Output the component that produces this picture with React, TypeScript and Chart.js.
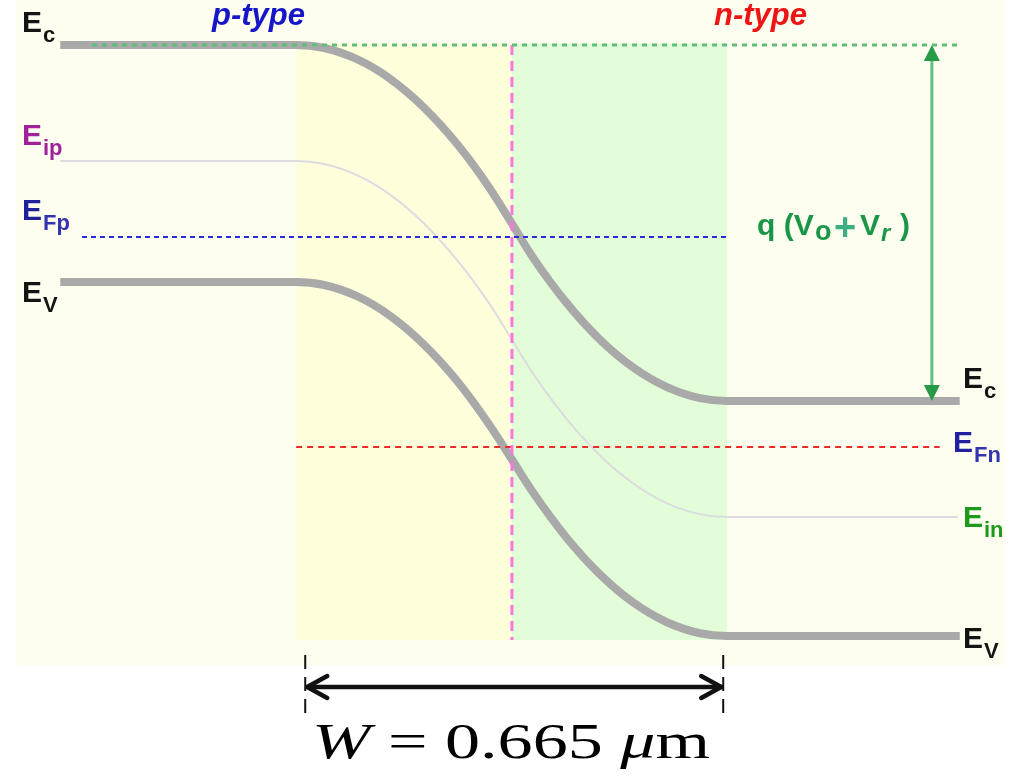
import React, { useEffect, useRef } from "react";
import { Chart, registerables } from "chart.js";
Chart.register(...registerables);

// ---- data (x: position in µm, junction at 0; y: energy in eV, Ev(n) = 0) ----
const X_BEND = [-0.3333, -0.2916, -0.2392, -0.1882, -0.1373, -0.0849, -0.0339, 0, 0.0324, 0.0849, 0.1358, 0.1867, 0.2392, 0.2901, 0.3317];
const X_BAND_START = -0.697;
const X_BAND_END = 0.691;
const X_EI_END = 0.688;
const EC = [2.793, 2.78, 2.726, 2.634, 2.502, 2.326, 2.114, 1.949, 1.789, 1.572, 1.401, 1.27, 1.176, 1.124, 1.111];
const EV = [1.673, 1.66, 1.606, 1.514, 1.382, 1.206, 0.994, 0.834, 0.679, 0.462, 0.291, 0.159, 0.065, 0.013, 0.0];
const EI = [2.245, 2.232, 2.178, 2.086, 1.954, 1.777, 1.566, 1.401, 1.241, 1.024, 0.853, 0.722, 0.627, 0.576, 0.562];
const EFP_LEVEL = 1.886;
const EFP_SPAN = [-0.6635, 0.332];
const EFN_LEVEL = 0.893;
const EFN_SPAN = [-0.333, 0.66];
const EC_REF_SPAN = [-0.648, 0.694];
const JUNCTION_X = 0;
const JUNCTION_SPAN = [2.793, -0.019];
const P_REGION = [-0.333, 0];
const N_REGION = [0, 0.332];
const REGION_E = [2.8, -0.019];
const FRAME_X = [-0.765, 0.761];
const FRAME_E = [3.1, -0.137];
const ARROW_X = 0.648;
const W_MARKS = [-0.319, 0.326];
const W_ARROW_E = -0.241;
const W_TICK_E = [-0.09, -0.378];
const W_TEXT = { italic1: "W", mid: " = 0.665 ", italic2: "μ", tail: "m" };
const X_RANGE = [-0.79, 0.767];
const E_RANGE = [-0.6805, 3.0057];

const pts = (xs: number[], ys: number[]) => xs.map((x, i) => ({ x, y: ys[i] }));
const band = (vals: number[], end = X_BAND_END) => [
  { x: X_BAND_START, y: vals[0] },
  ...pts(X_BEND, vals),
  { x: end, y: vals[vals.length - 1] },
];

const SANS = '"Liberation Sans", Arial, sans-serif';

function drawSubLabel(ctx: CanvasRenderingContext2D, main: string, sub: string, x: number, base: number, color: string, subColor?: string) {
  ctx.fillStyle = color;
  ctx.font = `bold 30px ${SANS}`;
  ctx.textAlign = "left";
  ctx.textBaseline = "alphabetic";
  ctx.fillText(main, x, base);
  const w = ctx.measureText(main).width;
  ctx.font = `bold 22px ${SANS}`;
  ctx.fillStyle = subColor || color;
  ctx.fillText(sub, x + w + 1, base + 10);
}

const decorPlugin = {
  id: "decor",
  beforeDatasetsDraw(chart: any) {
    const { ctx, scales } = chart;
    const xs = scales.x, ys = scales.y;
    const rect = (xr: number[], er: number[], color: string) => {
      const x0 = xs.getPixelForValue(xr[0]), x1 = xs.getPixelForValue(xr[1]);
      const y0 = ys.getPixelForValue(er[0]), y1 = ys.getPixelForValue(er[1]);
      ctx.fillStyle = color;
      ctx.fillRect(Math.min(x0, x1), Math.min(y0, y1), Math.abs(x1 - x0), Math.abs(y1 - y0));
    };
    ctx.save();
    rect(FRAME_X, FRAME_E, "#fefef0");
    rect(P_REGION, REGION_E, "#ffffdc");
    rect(N_REGION, REGION_E, "#e2fdd8");
    ctx.restore();
  },
  afterDatasetsDraw(chart: any) {
    const { ctx, scales } = chart;
    const xs = scales.x, ys = scales.y;
    ctx.save();
    // q(Vo+Vr) arrow
    const ax = xs.getPixelForValue(ARROW_X);
    const aTop = ys.getPixelForValue(EC[0]);
    const aBot = ys.getPixelForValue(EC[EC.length - 1]);
    ctx.strokeStyle = "#5fbf80";
    ctx.lineWidth = 3;
    ctx.beginPath();
    ctx.moveTo(ax, aTop + 10);
    ctx.lineTo(ax, aBot - 10);
    ctx.stroke();
    ctx.fillStyle = "#279a47";
    ctx.beginPath();
    ctx.moveTo(ax, aTop);
    ctx.lineTo(ax - 8, aTop + 16);
    ctx.lineTo(ax + 8, aTop + 16);
    ctx.closePath();
    ctx.fill();
    ctx.beginPath();
    ctx.moveTo(ax, aBot);
    ctx.lineTo(ax - 8, aBot - 16);
    ctx.lineTo(ax + 8, aBot - 16);
    ctx.closePath();
    ctx.fill();

    // W dimension
    const wx0 = xs.getPixelForValue(W_MARKS[0]);
    const wx1 = xs.getPixelForValue(W_MARKS[1]);
    const wy = ys.getPixelForValue(W_ARROW_E);
    const t0 = ys.getPixelForValue(W_TICK_E[0]);
    const t1 = ys.getPixelForValue(W_TICK_E[1]);
    ctx.strokeStyle = "#111";
    ctx.lineWidth = 2;
    ctx.setLineDash([14, 8]);
    for (const tx of [wx0, wx1]) {
      ctx.beginPath();
      ctx.moveTo(tx, t0);
      ctx.lineTo(tx, t1);
      ctx.stroke();
    }
    ctx.setLineDash([]);
    ctx.lineWidth = 4.5;
    ctx.lineCap = "round";
    ctx.lineJoin = "round";
    ctx.beginPath();
    ctx.moveTo(wx0 + 2, wy);
    ctx.lineTo(wx1 - 2, wy);
    ctx.stroke();
    ctx.beginPath();
    ctx.moveTo(wx0 + 22, wy - 11);
    ctx.lineTo(wx0 + 2, wy);
    ctx.lineTo(wx0 + 22, wy + 11);
    ctx.moveTo(wx1 - 22, wy - 11);
    ctx.lineTo(wx1 - 2, wy);
    ctx.lineTo(wx1 - 22, wy + 11);
    ctx.stroke();

    // W text (horizontally stretched math-style text)
    const serif = '"Liberation Serif", "DejaVu Serif", serif';
    const parts: [string, string][] = [
      [W_TEXT.italic1, `italic 50px ${serif}`],
      [W_TEXT.mid, `50px ${serif}`],
      [W_TEXT.italic2, `italic 50px ${serif}`],
      [W_TEXT.tail, `50px ${serif}`],
    ];
    let natural = 0;
    for (const [s, f] of parts) { ctx.font = f; natural += ctx.measureText(s).width; }
    const targetW = 398;
    const sx = targetW / natural;
    ctx.save();
    ctx.translate(312, 758);
    ctx.scale(sx, 1);
    ctx.fillStyle = "#000";
    ctx.textAlign = "left";
    ctx.textBaseline = "alphabetic";
    let cx = 0;
    for (const [s, f] of parts) { ctx.font = f; ctx.fillText(s, cx, 0); cx += ctx.measureText(s).width; }
    ctx.restore();

    // Labels
    drawSubLabel(ctx, "E", "c", 22, 32, "#141414");
    drawSubLabel(ctx, "E", "ip", 22, 145, "#a0229a");
    drawSubLabel(ctx, "E", "Fp", 22, 220, "#20209a", "#3434b0");
    drawSubLabel(ctx, "E", "V", 22, 302, "#141414");
    drawSubLabel(ctx, "E", "c", 963, 388, "#141414");
    drawSubLabel(ctx, "E", "Fn", 953, 452, "#2020a0", "#3434b0");
    drawSubLabel(ctx, "E", "in", 963, 527, "#1c9a1c");
    drawSubLabel(ctx, "E", "V", 963, 648, "#141414");

    ctx.textAlign = "left";
    ctx.font = `italic bold 31px ${SANS}`;
    ctx.fillStyle = "#1616c8";
    ctx.fillText("p-type", 212, 25);
    ctx.fillStyle = "#ee1414";
    ctx.fillText("n-type", 714, 25);

    // q (Vo + Vr)
    const g = "#1a9648";
    const qb = 235;
    ctx.fillStyle = g;
    ctx.font = `bold 30px ${SANS}`;
    ctx.fillText("q (V", 757, qb);
    ctx.font = `bold 27px ${SANS}`;
    ctx.fillText("o", 815, qb + 5);
    ctx.font = `bold 38px ${SANS}`;
    ctx.fillStyle = "#3cb080";
    ctx.fillText("+", 834, qb + 5);
    ctx.fillStyle = g;
    ctx.font = `bold 30px ${SANS}`;
    ctx.fillText("V", 860, qb);
    ctx.font = `italic bold 24px ${SANS}`;
    ctx.fillText("r", 881, qb + 6);
    ctx.font = `bold 30px ${SANS}`;
    ctx.fillText(")", 900, qb);
    ctx.restore();
  },
};

export default function App() {
  const ref = useRef<HTMLCanvasElement | null>(null);
  useEffect(() => {
    if (!ref.current) return;
    const chart = new Chart(ref.current, {
      type: "line",
      data: {
        datasets: [
          {
            data: band(EC), borderColor: "#a9a9a9", borderWidth: 8, cubicInterpolationMode: "monotone",
            pointRadius: 0, borderCapStyle: "butt", order: 5,
          } as any,
          {
            data: band(EV), borderColor: "#a9a9a9", borderWidth: 8, cubicInterpolationMode: "monotone",
            pointRadius: 0, borderCapStyle: "butt", order: 5,
          } as any,
          {
            data: band(EI, X_EI_END), borderColor: "#dcdce0", borderWidth: 2, cubicInterpolationMode: "monotone",
            pointRadius: 0, order: 6,
          } as any,
          {
            data: [{ x: EFP_SPAN[0], y: EFP_LEVEL }, { x: EFP_SPAN[1], y: EFP_LEVEL }],
            borderColor: "#2a2ad8", borderWidth: 2, borderDash: [5, 4], pointRadius: 0, order: 2,
          } as any,
          {
            data: [{ x: EFN_SPAN[0], y: EFN_LEVEL }, { x: EFN_SPAN[1], y: EFN_LEVEL }],
            borderColor: "#ec2a2a", borderWidth: 2, borderDash: [6, 5], pointRadius: 0, order: 2,
          } as any,
          {
            data: [{ x: EC_REF_SPAN[0], y: EC[0] }, { x: EC_REF_SPAN[1], y: EC[0] }],
            borderColor: "#5fbf7a", borderWidth: 3, borderDash: [5, 5], pointRadius: 0, order: 1,
          } as any,
          {
            data: [{ x: JUNCTION_X, y: JUNCTION_SPAN[0] }, { x: JUNCTION_X, y: JUNCTION_SPAN[1] }],
            borderColor: "#ff74e0", borderWidth: 3, borderDash: [10, 6], pointRadius: 0, order: 1,
          } as any,
        ],
      },
      options: {
        animation: false,
        responsive: false,
        devicePixelRatio: 1,
        layout: { padding: 0 },
        plugins: { legend: { display: false }, tooltip: { enabled: false } },
        events: [],
        scales: {
          x: { type: "linear", min: X_RANGE[0], max: X_RANGE[1], display: false },
          y: { type: "linear", min: E_RANGE[0], max: E_RANGE[1], display: false },
        },
      },
      plugins: [decorPlugin],
    });
    return () => chart.destroy();
  }, []);
  return (
    <div style={{ position: "absolute", left: 0, top: 0, width: 1009, height: 780, background: "#fff" }}>
      <canvas ref={ref} width={1009} height={780} style={{ display: "block" }} />
    </div>
  );
}
